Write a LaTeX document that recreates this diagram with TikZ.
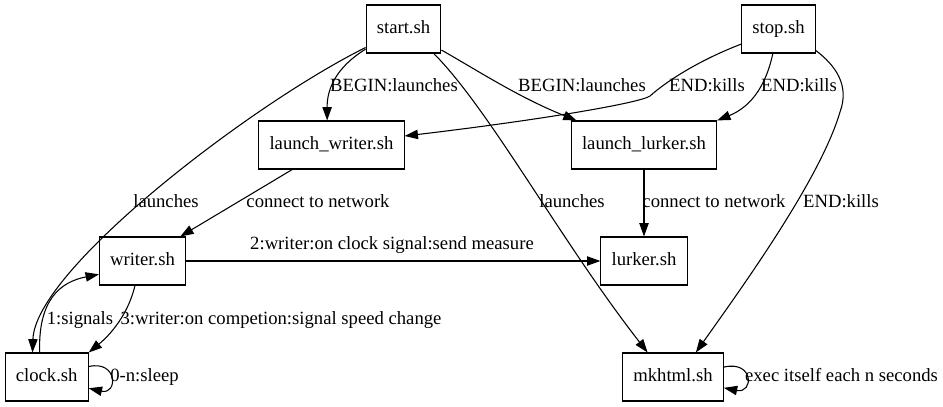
\documentclass[tikz,border=0pt]{standalone}
\usepackage{fontspec}
\setmainfont{Liberation Serif}
\usetikzlibrary{arrows.meta}

\begin{document}
\begin{tikzpicture}[x=0.75pt,y=-0.75pt,
  box/.style={draw=black,line width=.8pt,minimum width=54pt,minimum height=36pt,
    inner xsep=8pt,text height=10pt,text depth=3pt,
    font=\fontsize{14pt}{16pt}\selectfont},
  lbl/.style={inner sep=0pt,text height=10pt,text depth=3pt,
    font=\fontsize{14pt}{16pt}\selectfont},
  link/.style={draw=black,line width=.8pt,-{Triangle[length=10pt,width=7pt]}}]
\useasboundingbox (0,0) rectangle (943,407);

% Scripts.
\node[box] (start) at (403.5,29) {start.sh};
\node[box] (stop) at (778.5,29) {stop.sh};
\node[box] (lwriter) at (331.5,145) {launch\_writer.sh};
\node[box] (llurker) at (644,145) {launch\_lurker.sh};
\node[box] (writer) at (142.5,261) {writer.sh};
\node[box] (lurker) at (644,261) {lurker.sh};
\node[box] (clock) at (46.7,377) {clock.sh};
\node[box] (mkhtml) at (673,377) {mkhtml.sh};

% start.sh and stop.sh.
\draw[link] (start.208) .. controls (335,68) and (327,90) .. (lwriter.100);
\draw[link] (start.-29) .. controls (480,72) and (520,98) .. (llurker.160);
\draw[link] (start.-39) .. controls (490,110) and (560,240) .. (mkhtml.136);
\draw[link] (start.206) .. controls (250,105) and (35,270) .. (clock.120);
\draw[link] (stop.202) .. controls (700,60) and (668,80) .. (650,96)
  .. controls (640,103) and (540,120) .. (lwriter.7);
\draw[link] (stop.257) .. controls (765,90) and (748,108) .. (llurker.north east);
\draw[link] (stop.-30) .. controls (835,65) and (850,85) .. (840,112)
  .. controls (820,180) and (740,290) .. (mkhtml.47);
\node[lbl] (l1) at (394,87) {BEGIN:launches};
\node[lbl] (l2) at (582,87) {BEGIN:launches};
\node[lbl] (l3) at (707,87) {END:kills};
\node[lbl] (l4) at (799,87) {END:kills};
\node[lbl] (l5) at (166,203) {launches};
\node[lbl] (l7) at (572,203) {launches};
\node[lbl] (l9) at (841,203) {END:kills};

% Network and signals.
\draw[link] (lwriter.212) -- (writer.33);
\draw[link] (llurker) -- (lurker);
\draw[link] (writer) -- (lurker);
\draw[link] (clock.106) .. controls (38,300) and (60,282) .. (writer.197);
\draw[link] (writer.253) .. controls (128,315) and (110,335) .. (clock.north east);
\draw[link] (clock.14) .. controls (118,360) and (118,395) .. (clock.-15);
\draw[link] (mkhtml.11) .. controls (754,360) and (754,394) .. (mkhtml.-12);
\node[lbl] (l6) at (318,203) {connect to network};
\node[lbl] (l8) at (714,203) {connect to network};
\node[lbl] (l10) at (392,245) {2:writer:on clock signal:send measure};
\node[lbl] (l11) at (80,320) {1:signals};
\node[lbl] (l12) at (281,320) {3:writer:on competion:signal speed change};
\node[lbl] (l13) at (144.5,377) {0-n:sleep};
\node[lbl] (l14) at (841.5,377) {exec itself each n seconds};
\end{tikzpicture}
\end{document}
